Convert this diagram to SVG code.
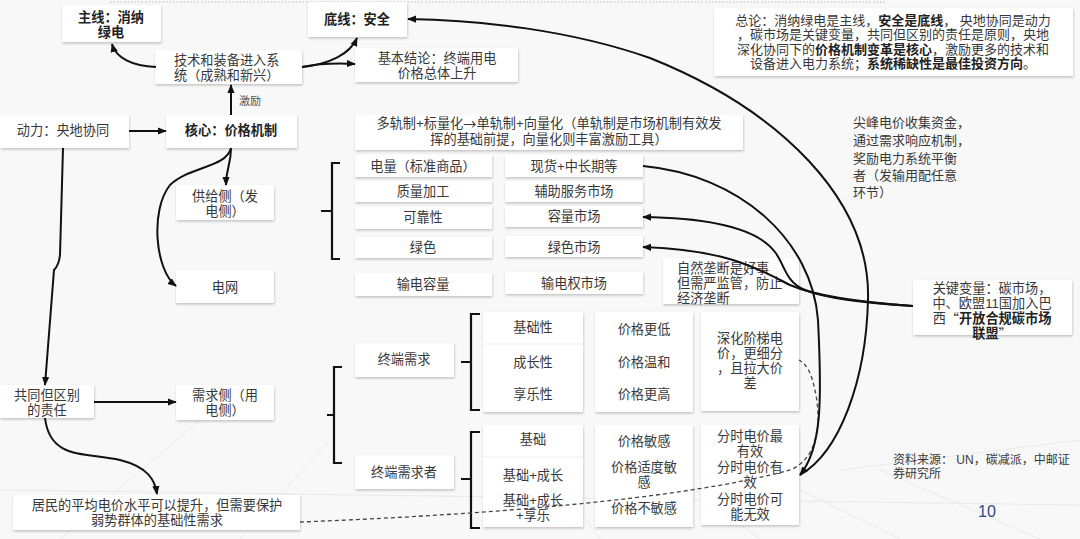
<svg xmlns="http://www.w3.org/2000/svg" width="1080" height="539" viewBox="0 0 1080 539">
<defs>
<filter id="sh" x="-10%" y="-10%" width="120%" height="130%">
<feDropShadow dx="0.5" dy="1.5" stdDeviation="1" flood-color="#000" flood-opacity="0.22"/>
</filter>
<marker id="ar" viewBox="0 0 10 8" refX="9" refY="4" markerWidth="9" markerHeight="8" markerUnits="userSpaceOnUse" orient="auto">
<path d="M0,0 L10,4 L0,8 z" fill="#111"/>
</marker>
<style>
.bx{fill:#fff;filter:url(#sh)}
.t{font-family:"Liberation Sans","Noto Sans CJK SC",sans-serif;font-size:13.2px;fill:#383838;dominant-baseline:central}
.cj{font-family:"Noto Sans CJK SC",sans-serif}
.c{text-anchor:middle}
.b{font-weight:bold;fill:#222}
.cn{fill:none;stroke:#111;stroke-width:2}
.br{fill:none;stroke:#111;stroke-width:2.2}
.dv{stroke:#eeeeee;stroke-width:1}
.bg{stroke:#e9e9e9;stroke-width:1;fill:none}
</style>
</defs>
<rect width="1080" height="539" fill="#f8f8f8"/>
<g id="background">
<path class="bg" d="M0,490 L1080,505 M60,539 L200,420 M240,539 L330,440 M600,539 L520,430 M760,539 L640,450 M900,539 L760,470 M1040,539 L880,470 M840,470 L1080,440"/>
<line x1="110" y1="2" x2="886" y2="2" stroke="#bbb" stroke-width="1" stroke-dasharray="1.5,2"/>
</g>
<g id="brackets">
<path class="br" d="M340,163 H332 V259 H340 M321,211 H332"/>
<path class="br" d="M342,367 H334 V463 H342 M327,415 H334"/>
<path class="br" d="M480,314 H471 V410 H480 M461,362 H471"/>
<path class="br" d="M480,432 H471 V528 H480 M461,479 H471"/>
</g>
<g id="n_main"><rect class="bx" x="62" y="5" width="99" height="37"/><text class="t c b"><tspan x="111" y="16.5">主线：消纳</tspan><tspan x="111" y="31.5">绿电</tspan></text></g>
<g id="n_bottom"><rect class="bx" x="308" y="2" width="99" height="35"/><text class="t c b" x="357" y="19">底线：安全</text></g>
<g id="n_tech"><rect class="bx" x="155" y="50" width="147" height="34"/><text class="t"><tspan x="174" y="60">技术和装备进入系</tspan><tspan x="174" y="75">统（成熟和新兴）</tspan></text></g>
<g id="n_concl"><rect class="bx" x="355" y="48" width="163" height="34"/><text class="t c"><tspan x="437" y="57.5">基本结论：终端用电</tspan><tspan x="437" y="72.5">价格总体上升</tspan></text></g>
<g id="n_power"><rect class="bx" x="0" y="115" width="129" height="33"/><text class="t c" x="63" y="130">动力：央地协同</text></g>
<g id="n_core"><rect class="bx" x="166" y="115" width="131" height="33"/><text class="t c b" x="231" y="130">核心：价格机制</text></g>
<g id="n_multi"><rect class="bx" x="355" y="115" width="388" height="35"/><text class="t c"><tspan x="549" y="123">多轨制+标量化<tspan class="cj">→</tspan>单轨制+向量化（单轨制是市场机制有效发</tspan><tspan x="549" y="139">挥的基础前提，向量化则丰富激励工具）</tspan></text></g>
<g id="n_summary"><rect class="bx" x="714" y="8" width="359" height="68"/>
<text class="t c" style="font-size:13px"><tspan x="893" y="19.5">总论：消纳绿电是主线，<tspan class="b">安全是底线</tspan>， 央地协同是动力</tspan><tspan x="893" y="34">，碳市场是关键变量，共同但区别的责任是原则，央地</tspan><tspan x="893" y="48.5">深化协同下的<tspan class="b">价格机制变革是核心</tspan>，激励更多的技术和</tspan><tspan x="893" y="63">设备进入电力系统；<tspan class="b">系统稀缺性是最佳投资方向</tspan>。</tspan></text></g>
<g id="n_peak"><text class="t" style="font-size:13px"><tspan x="853" y="122">尖峰电价收集资金，</tspan><tspan x="853" y="140">通过需求响应机制，</tspan><tspan x="853" y="158">奖励电力系统平衡</tspan><tspan x="853" y="175">者（发输用配任意</tspan><tspan x="853" y="192">环节）</tspan></text></g>
<g id="n_supply"><rect class="bx" x="176" y="185" width="98" height="35"/><text class="t c"><tspan x="225" y="195.5">供给侧（发</tspan><tspan x="225" y="210.5">电侧）</tspan></text></g>
<g id="n_grid"><rect class="bx" x="176" y="270" width="98" height="33"/><text class="t c" x="225" y="287">电网</text></g>
<g id="s1"><rect class="bx" x="355" y="155" width="137" height="22"/><text class="t c" x="423" y="166">电量（标准商品）</text></g>
<g id="s2"><rect class="bx" x="355" y="181" width="137" height="21"/><text class="t c" x="423" y="191">质量加工</text></g>
<g id="s3"><rect class="bx" x="355" y="207" width="137" height="22"/><text class="t c" x="423" y="217">可靠性</text></g>
<g id="s4"><rect class="bx" x="355" y="237" width="137" height="21"/><text class="t c" x="423" y="247">绿色</text></g>
<g id="s5"><rect class="bx" x="355" y="273" width="137" height="23"/><text class="t c" x="423" y="284">输电容量</text></g>
<g id="m1"><rect class="bx" x="505" y="155" width="138" height="22"/><text class="t c" x="574" y="166">现货+中长期等</text></g>
<g id="m2"><rect class="bx" x="505" y="181" width="138" height="21"/><text class="t c" x="574" y="191">辅助服务市场</text></g>
<g id="m3"><rect class="bx" x="505" y="206" width="138" height="21"/><text class="t c" x="574" y="216">容量市场</text></g>
<g id="m4"><rect class="bx" x="505" y="236" width="138" height="21"/><text class="t c" x="574" y="247">绿色市场</text></g>
<g id="m5"><rect class="bx" x="505" y="272" width="138" height="22"/><text class="t c" x="574" y="283">输电权市场</text></g>
<g id="n_monopoly"><rect class="bx" x="663" y="258" width="136" height="46"/><text class="t"><tspan x="677" y="268">自然垄断是好事</tspan><tspan x="677" y="283">但需严监管，防止</tspan><tspan x="677" y="298">经济垄断</tspan></text></g>
<g id="n_carbon"><rect class="bx" x="913" y="280" width="159" height="55"/><text class="t c"><tspan x="992" y="288">关键变量：碳市场，</tspan><tspan x="992" y="303">中、欧盟11国加入巴</tspan><tspan x="992" y="318">西<tspan class="cj">“</tspan><tspan class="b">开放合规碳市场</tspan></tspan><tspan x="992" y="333"><tspan class="b">联盟</tspan><tspan class="cj">”</tspan></tspan></text></g>
<g id="n_common"><rect class="bx" x="0" y="385" width="94" height="33"/><text class="t c"><tspan x="47" y="394.5">共同但区别</tspan><tspan x="47" y="409.5">的责任</tspan></text></g>
<g id="n_demand"><rect class="bx" x="176" y="385" width="98" height="35"/><text class="t c"><tspan x="225" y="395">需求侧（用</tspan><tspan x="225" y="410">电侧）</tspan></text></g>
<g id="n_enddemand"><rect class="bx" x="355" y="343" width="99" height="34"/><text class="t c" x="404" y="359">终端需求</text></g>
<g id="n_enduser"><rect class="bx" x="355" y="455" width="99" height="34"/><text class="t c" x="404" y="472">终端需求者</text></g>
<g id="n_types"><rect class="bx" x="483" y="312" width="100" height="100"/><line class="dv" x1="483" y1="344" x2="583" y2="344"/><text class="t c" x="533" y="327">基础性</text><text class="t c" x="533" y="362">成长性</text><text class="t c" x="533" y="394">享乐性</text></g>
<g id="n_users"><rect class="bx" x="483" y="425" width="100" height="102"/><line class="dv" x1="483" y1="457" x2="583" y2="457"/><text class="t c" x="533" y="439">基础</text><text class="t c" x="533" y="475">基础+成长</text><text class="t c"><tspan x="533" y="499.5">基础+成长</tspan><tspan x="533" y="514.5">+享乐</tspan></text></g>
<g id="n_prices1"><rect class="bx" x="595" y="312" width="98" height="100"/><text class="t c" x="644" y="329">价格更低</text><text class="t c" x="644" y="362">价格温和</text><text class="t c" x="644" y="394">价格更高</text></g>
<g id="n_prices2"><rect class="bx" x="595" y="425" width="98" height="102"/><text class="t c" x="644" y="441">价格敏感</text><text class="t c"><tspan x="644" y="467">价格适度敏</tspan><tspan x="644" y="482">感</tspan></text><text class="t c" x="644" y="508">价格不敏感</text></g>
<g id="n_tier"><rect class="bx" x="701" y="312" width="98" height="99"/><text class="t c"><tspan x="750" y="338">深化阶梯电</tspan><tspan x="750" y="353">价，更细分</tspan><tspan x="750" y="368">，且拉大价</tspan><tspan x="750" y="383">差</tspan></text></g>
<g id="n_tou"><rect class="bx" x="701" y="425" width="98" height="100"/><text class="t c"><tspan x="750" y="436">分时电价最</tspan><tspan x="750" y="451">有效</tspan><tspan x="750" y="467">分时电价有</tspan><tspan x="750" y="482">效</tspan><tspan x="750" y="499">分时电价可</tspan><tspan x="750" y="514">能无效</tspan></text></g>
<g id="n_resident"><rect class="bx" x="13" y="495" width="287" height="35"/><text class="t c"><tspan x="157" y="505">居民的平均电价水平可以提升，但需要保护</tspan><tspan x="157" y="520">弱势群体的基础性需求</tspan></text></g>
<g id="n_source"><text class="t" style="font-size:12px"><tspan x="893" y="460">资料来源： UN，碳减派，中邮证</tspan><tspan x="893" y="474">券研究所</tspan></text></g>
<g id="n_page"><text class="t c" x="987" y="511" style="font-size:16px;fill:#2b4a8a">10</text></g>
<g id="connectors">
<path class="cn" d="M156,67 C132,66 116,58 112,44" marker-end="url(#ar)"/>
<path class="cn" d="M302,67 C330,64 350,54 357,38" marker-end="url(#ar)"/>
<path class="cn" d="M302,67 C322,63 338,63 355,64" marker-end="url(#ar)"/>
<path class="cn" d="M231,115 L231,85" marker-end="url(#ar)"/>
<path class="cn" d="M129,131 L166,131" marker-end="url(#ar)"/>
<path class="cn" d="M231,148 C231,165 226,168 226,185" marker-end="url(#ar)"/>
<path class="cn" d="M231,148 C226,168 190,166 170,185 C150,210 155,270 176,286" marker-end="url(#ar)"/>
<path class="cn" d="M63,148 L60,255 Q59,265 54,270 L45,385" marker-end="url(#ar)"/>
<path class="cn" d="M94,402 L176,402" marker-end="url(#ar)"/>
<path class="cn" d="M45,418 C50,460 85,452 120,460 C148,467 155,480 157,494" marker-end="url(#ar)"/>
<path d="M300,522 C480,515 680,500 790,470 C815,460 822,430 816,395 C812,375 808,365 799,360" fill="none" stroke="#444" stroke-width="1.3" stroke-dasharray="4,3"/>
<path class="cn" d="M800,475 C840,452 866,380 868,300 C871,200 780,110 650,58 C570,30 480,20 408,19" marker-end="url(#ar)"/>
<path class="cn" d="M643,166 C740,175 812,240 818,320 C822,400 822,448 800,475" marker-end="url(#ar)"/>
<path class="cn" d="M913,306 C880,304 830,300 805,290 C785,282 785,265 775,252 C760,232 720,218 643,217" marker-end="url(#ar)"/>
<path class="cn" d="M913,306 C870,303 820,298 790,285 C760,270 730,250 643,247" marker-end="url(#ar)"/>
<text class="t c" x="250" y="101" style="font-size:11px;fill:#555">激励</text>
</g>
</svg>
